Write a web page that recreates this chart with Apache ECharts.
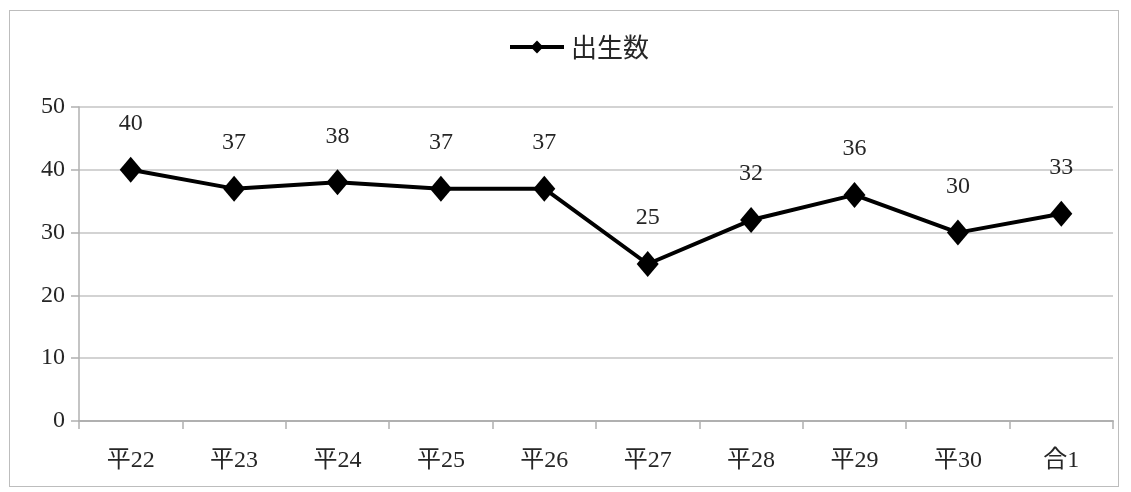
<!DOCTYPE html>
<html>
<head>
<meta charset="utf-8">
<style>
  html, body { margin: 0; padding: 0; background: #fff; }
  #frame { position: absolute; left: 9px; top: 10px; width: 1110px; height: 477px; border: 1px solid #bdbdbd; box-sizing: border-box; }
  #chart { width: 1131px; height: 492px; position: absolute; left: 0; top: 0; }
</style>
<script src="https://cdn.jsdelivr.net/npm/echarts@6/dist/echarts.min.js"></script>
</head>
<body>
<div id="frame"></div>
<div id="chart"></div>
<script>
// 年度別の出生数
const categories = ['平22', '平23', '平24', '平25', '平26', '平27', '平28', '平29', '平30', '合1'];
const births = [40, 37, 38, 37, 37, 25, 32, 36, 30, 33];
const seriesName = '出生数';

const textFont = '"Liberation Serif", "Noto Sans CJK JP", serif';
const textColor = '#262626';

const chart = echarts.init(document.getElementById('chart'));
chart.setOption({
  animation: false,
  legend: {
    data: [seriesName],
    top: 34,
    left: 508,
    padding: 0,
    itemWidth: 54,
    itemHeight: 16,
    itemGap: 4,
    lineStyle: { width: 4 },
    textStyle: { fontFamily: '"Noto Sans CJK JP", sans-serif', fontSize: 26, color: textColor, padding: [0, 0, 0, 2] }
  },
  grid: { left: 79, right: 18, top: 107, bottom: 71, containLabel: false },
  xAxis: {
    type: 'category',
    data: categories,
    boundaryGap: true,
    axisLine: { lineStyle: { color: '#b0b0b0', width: 2 } },
    axisTick: { show: true, length: 8, lineStyle: { color: '#b0b0b0', width: 1.5 } },
    axisLabel: { fontFamily: textFont, fontSize: 24, color: textColor, margin: 28 }
  },
  yAxis: {
    type: 'value',
    min: 0,
    max: 50,
    interval: 10,
    axisLine: { show: true, lineStyle: { color: '#b0b0b0', width: 1.5 } },
    axisTick: { show: true, length: 8, lineStyle: { color: '#b0b0b0', width: 1.5 } },
    axisLabel: { fontFamily: textFont, fontSize: 24, color: textColor, margin: 14 },
    splitLine: { lineStyle: { color: '#c4c4c4', width: 1.5 } }
  },
  series: [{
    name: seriesName,
    type: 'line',
    data: births,
    symbol: 'diamond',
    symbolSize: [22, 26],
    lineStyle: { color: '#000', width: 4 },
    itemStyle: { color: '#000' },
    label: {
      show: true,
      position: 'top',
      distance: 21,
      fontFamily: textFont,
      fontSize: 24,
      color: textColor
    }
  }]
});
</script>
</body>
</html>
